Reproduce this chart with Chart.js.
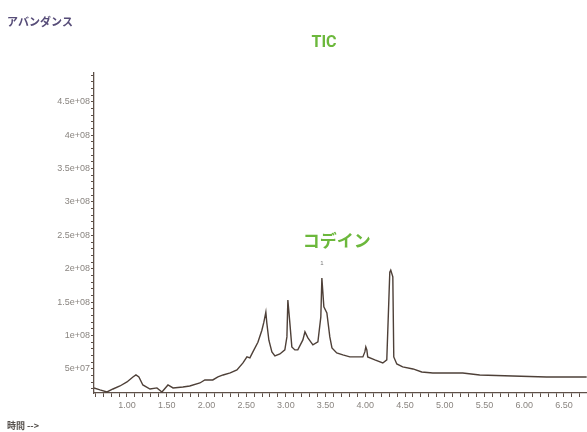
<!DOCTYPE html>
<html>
<head>
<meta charset="utf-8">
<script src="https://cdn.jsdelivr.net/npm/chart.js@4.4.1/dist/chart.umd.min.js"></script>
<style>
  html, body { margin: 0; padding: 0; background: #fff; }
  #wrap { position: relative; width: 587px; height: 432px; }
</style>
</head>
<body>
<div id="wrap"><canvas id="ticChart" width="587" height="432"></canvas></div>
<script>
// retention time (min) and abundance
const times = [0.585, 0.66, 0.748, 0.824, 0.912, 1.0, 1.075, 1.113, 1.15, 1.2, 1.29, 1.377, 1.44, 1.516, 1.58,
    1.704, 1.79, 1.918, 1.98, 2.08, 2.145, 2.21, 2.30, 2.384, 2.46, 2.51, 2.547, 2.585, 2.648, 2.698,
    2.723, 2.748, 2.76, 2.786, 2.824, 2.862, 2.925, 2.987, 3.013, 3.025, 3.05, 3.075, 3.113, 3.15,
    3.214, 3.24, 3.277, 3.34, 3.403, 3.44, 3.453, 3.478, 3.516, 3.553, 3.58, 3.64, 3.717, 3.805,
    3.893, 3.969, 3.994, 4.006, 4.019, 4.03, 4.12, 4.22, 4.27, 4.296, 4.308, 4.32, 4.346, 4.358,
    4.396, 4.47, 4.6, 4.71, 4.85, 5.226, 5.44, 5.855, 6.28, 6.786];
const abundance = [2.16e7, 1.86e7, 1.56e7, 2.0e7, 2.45e7, 3.05e7, 3.8e7, 4.1e7, 3.8e7, 2.6e7, 2.0e7, 2.16e7, 1.56e7, 2.6e7, 2.16e7,
    2.3e7, 2.45e7, 2.9e7, 3.35e7, 3.35e7, 3.8e7, 4.1e7, 4.4e7, 4.85e7, 5.9e7, 6.8e7, 6.65e7, 7.55e7, 9.0e7, 1.08e8,
    1.20e8, 1.35e8, 1.19e8, 9.3e7, 7.55e7, 6.95e7, 7.25e7, 7.85e7, 9.8e7, 1.53e8, 1.19e8, 8.3e7, 7.85e7, 7.85e7,
    9.35e7, 1.055e8, 9.65e7, 8.6e7, 9.05e7, 1.28e8, 1.86e8, 1.43e8, 1.34e8, 9.8e7, 8.15e7, 7.4e7, 7.1e7, 6.8e7,
    6.8e7, 6.8e7, 7.55e7, 8.3e7, 7.85e7, 6.8e7, 6.35e7, 5.9e7, 6.35e7, 1.53e8, 1.95e8, 1.98e8, 1.88e8, 6.8e7,
    5.75e7, 5.3e7, 5.0e7, 4.55e7, 4.4e7, 4.4e7, 4.1e7, 3.95e7, 3.8e7, 3.8e7];

const xTickValues = [1.0, 1.5, 2.0, 2.5, 3.0, 3.5, 4.0, 4.5, 5.0, 5.5, 6.0, 6.5];
const xTickLabels = ['1.00', '1.50', '2.00', '2.50', '3.00', '3.50', '4.00', '4.50', '5.00', '5.50', '6.00', '6.50'];
const yTickValues = [5e7, 1e8, 1.5e8, 2e8, 2.5e8, 3e8, 3.5e8, 4e8, 4.5e8];
const yTickLabels = ['5e+07', '1e+08', '1.5e+08', '2e+08', '2.5e+08', '3e+08', '3.5e+08', '4e+08', '4.5e+08'];

const peakLabel = { x: 3.453, y: 1.86e8, text: 'コデイン' };

const axisColor = '#5e5048';
const tickFont = { family: "'Liberation Sans', Arial, sans-serif", size: 9 };

function labelFor(values, labels, v) {
    const i = values.findIndex(t => Math.abs(t - v) < 1e-6 * Math.max(1, Math.abs(t)));
    return i >= 0 ? labels[i] : '';
}

const textPlugin = {
    id: 'texts',
    afterDraw(chart) {
        const ctx = chart.ctx;
        const xs = chart.scales.x, ys = chart.scales.y;
        ctx.save();
        ctx.textBaseline = 'middle';
        ctx.fillStyle = '#564c78';
        ctx.font = "bold 11px 'Noto Sans CJK JP', sans-serif";
        ctx.textAlign = 'left';
        ctx.fillText('アバンダンス', 7, 22);
        ctx.fillStyle = '#55504c';
        ctx.font = "bold 9px 'Noto Sans CJK JP', sans-serif";
        ctx.fillText('時間 -->', 7, 426);

        ctx.fillStyle = '#6cb83c';
        ctx.textAlign = 'center';
        ctx.font = "bold 16px 'Liberation Sans Narrow', Roboto, sans-serif";
        ctx.fillText('TIC', 324, 43);
        const px = xs.getPixelForValue(peakLabel.x);
        const py = ys.getPixelForValue(peakLabel.y);
        ctx.font = "bold 17px 'Noto Sans CJK JP', sans-serif";
        ctx.fillText(peakLabel.text, px + 15, py - 38);
        ctx.fillStyle = '#777';
        ctx.font = "6px 'Liberation Sans', sans-serif";
        ctx.fillText('1', px, py - 15);
        ctx.restore();
    }
};

new Chart(document.getElementById('ticChart').getContext('2d'), {
    type: 'line',
    data: {
        datasets: [{
            data: times.map((t, i) => ({ x: t, y: abundance[i] })),
            borderColor: '#4e4038',
            borderWidth: 1.4,
            pointRadius: 0,
            tension: 0,
            fill: false,
        }]
    },
    options: {
        responsive: false,
        animation: false,
        events: [],
        layout: { padding: { top: 73, right: 0, bottom: 0, left: 0 } },
        plugins: { legend: { display: false }, tooltip: { enabled: false } },
        scales: {
            x: {
                type: 'linear',
                min: 0.585,
                max: 6.79,
                afterBuildTicks(scale) {
                    const ticks = [];
                    for (let k = 6; k <= 67; k++) ticks.push({ value: k / 10 });
                    scale.ticks = ticks;
                },
                afterFit(scale) { scale.height = 39; },
                border: { color: axisColor, width: 1.3 },
                grid: { drawOnChartArea: false, color: axisColor, tickLength: 4 },
                ticks: {
                    autoSkip: false,
                    maxRotation: 0,
                    padding: 3,
                    color: '#8a8580',
                    font: tickFont,
                    callback: v => labelFor(xTickValues, xTickLabels, v)
                }
            },
            y: {
                min: 1.4e7,
                max: 4.93e8,
                afterBuildTicks(scale) {
                    const ticks = [];
                    for (let k = 2; k <= 49; k++) ticks.push({ value: k * 1e7 });
                    scale.ticks = ticks;
                },
                afterFit(scale) { scale.width = 94; },
                border: { color: axisColor, width: 1.3 },
                grid: { drawOnChartArea: false, color: axisColor, tickLength: 3 },
                ticks: {
                    autoSkip: false,
                    padding: 1,
                    color: '#8a8580',
                    font: tickFont,
                    callback: v => labelFor(yTickValues, yTickLabels, v)
                }
            }
        }
    },
    plugins: [textPlugin]
});
</script>
</body>
</html>
